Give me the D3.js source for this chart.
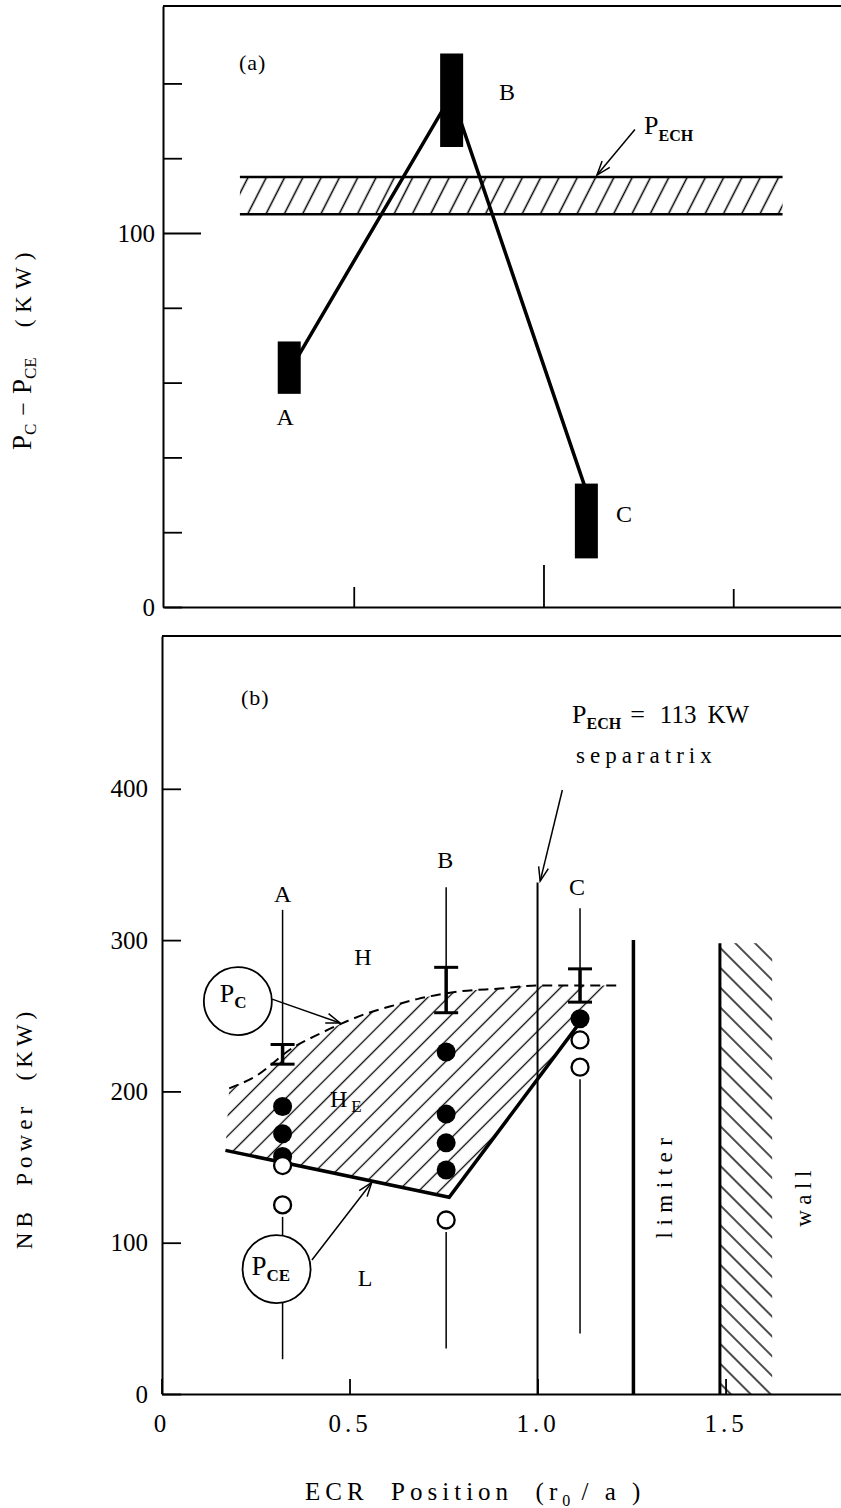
<!DOCTYPE html>
<html>
<head>
<meta charset="utf-8">
<script src="https://cdn.jsdelivr.net/npm/d3@7"></script>
<style>
body { margin: 0; background: #fff; }
svg { display: block; }
text { font-family: "Liberation Serif", "DejaVu Serif", serif; fill: #000; }
</style>
</head>
<body>
<div id="chart"></div>
<script>
// ---- panel (a): Pc - Pce at the three ECR positions ----
var posA = [0.33, 0.758, 1.113];
var caseNames = ["A", "B", "C"];
var diffLow = [57, 123, 13];
var diffHigh = [71, 148, 33];
var diffLine = [63, 137, 31];
var pechBand = [105, 115];
var pechSpan = [0.2, 1.63];
var yTicksA = [0, 20, 40, 60, 80, 100, 120, 140];
var xTicksA = [0.5, 1.0, 1.5];

// ---- panel (b): NB power thresholds ----
var posB = [0.322, 0.757, 1.113];
var pcLow = [218, 252, 259];
var pcHigh = [231, 282, 281];
var hPoints = [[190, 172, 157], [226, 185, 166, 148], [248]];
var lPoints = [[151, 125], [115], [234, 216]];
var chordTop = [320, 335, 321];
var chordBottom = [23, 30, 40];
var pcCurve = [[0.18, 202], [0.25, 210], [0.35, 229], [0.42, 238], [0.48, 245], [0.54, 251],
               [0.62, 257], [0.68, 261], [0.79, 266], [0.9, 268], [1.0, 270], [1.215, 270]];
var pceLine = [[0.17, 161], [0.765, 130], [1.105, 243]];
var separatrix = [1.0, 338];
var limiter = [1.255, 300];
var wall = [1.485, 1.624, 298];
var yTicksB = [0, 100, 200, 300, 400];
var xTicksB = [0, 0.5, 1.0, 1.5];

var W = 841, H = 1508;
var svg = d3.select("#chart").append("svg").attr("width", W).attr("height", H);
var defs = svg.append("defs");

function hatch(id, angle, gap, sw) {
    defs.append("pattern").attr("id", id)
        .attr("patternUnits", "userSpaceOnUse")
        .attr("width", gap).attr("height", gap)
        .attr("patternTransform", "rotate(" + angle + ")")
        .append("line")
        .attr("x1", gap / 2).attr("x2", gap / 2).attr("y1", 0).attr("y2", gap)
        .attr("stroke", "#000").attr("stroke-width", sw);
}
hatch("hatchA", 27, 16.3, 1.5);
hatch("hatchB", 45, 14.5, 1.3);
hatch("hatchW", -45, 14, 1.4);

defs.append("marker").attr("id", "arrow")
    .attr("markerUnits", "userSpaceOnUse")
    .attr("viewBox", "-16 -8 18 16")
    .attr("markerWidth", 18).attr("markerHeight", 16)
    .attr("refX", 0).attr("refY", 0).attr("orient", "auto")
    .append("path").attr("d", "M-14,-5L0,0L-14,5")
    .attr("fill", "none").attr("stroke", "#000").attr("stroke-width", 1.5);

function richText(g, x, y, parts) {
    var t = g.append("text").attr("x", x).attr("y", y);
    parts.forEach(function(p) {
        t.append("tspan").text(p.t)
            .attr("font-size", p.s || 22)
            .attr("dx", p.dx || 0).attr("dy", p.dy || 0)
            .attr("font-weight", p.w || null)
            .attr("letter-spacing", p.ls || 0);
    });
    return t;
}

function arrow(g, x1, y1, x2, y2) {
    g.append("line").attr("x1", x1).attr("y1", y1).attr("x2", x2).attr("y2", y2)
        .attr("stroke", "#000").attr("stroke-width", 1.5)
        .attr("marker-end", "url(#arrow)");
}

function styleAxis(g, sw) {
    g.select(".domain").attr("stroke-width", sw);
    g.selectAll(".tick line").attr("stroke-width", 1.8);
    g.selectAll("text").attr("font-family", "Liberation Serif, serif").attr("font-size", 25).attr("fill", "#000");
}

// ================= panel (a) =================
var xa = d3.scaleLinear().domain([0, 1.784]).range([164, 841]);
var ya = d3.scaleLinear().domain([0, 160.7]).range([607, 6]);
var ga = svg.append("g");

ga.append("line").attr("x1", 163).attr("x2", W).attr("y1", ya(160.7)).attr("y2", ya(160.7))
    .attr("stroke", "#000").attr("stroke-width", 2);

var axA = ga.append("g").attr("transform", "translate(163,0)")
    .call(d3.axisLeft(ya).tickValues(yTicksA).tickSize(-19).tickSizeOuter(0).tickPadding(8)
        .tickFormat(function(d) { return (d === 0 || d === 100) ? d : ""; }));
axA.selectAll(".tick line").attr("x2", function(d) { return d === 100 ? 38 : 19; });
styleAxis(axA, 2);

var axAx = ga.append("g").attr("transform", "translate(0," + ya(0) + ")")
    .call(d3.axisBottom(xa).tickValues(xTicksA).tickSize(-20).tickSizeOuter(0).tickFormat(""));
axAx.selectAll(".tick line").attr("y2", function(d) { return d === 1.0 ? -42 : (d === 1.5 ? -18 : -20); });
styleAxis(axAx, 2);

// P_ECH band
ga.append("rect")
    .attr("x", xa(pechSpan[0])).attr("width", xa(pechSpan[1]) - xa(pechSpan[0]))
    .attr("y", ya(pechBand[1])).attr("height", ya(pechBand[0]) - ya(pechBand[1]))
    .attr("fill", "url(#hatchA)");
ga.selectAll(".band-edge").data(pechBand).enter().append("line")
    .attr("x1", xa(pechSpan[0])).attr("x2", xa(pechSpan[1]))
    .attr("y1", function(d) { return ya(d); }).attr("y2", function(d) { return ya(d); })
    .attr("stroke", "#000").attr("stroke-width", 2.5);

// connecting line
ga.append("path")
    .attr("d", d3.line().x(function(d, i) { return xa(posA[i]); }).y(function(d) { return ya(d); })(diffLine))
    .attr("fill", "none").attr("stroke", "#000").attr("stroke-width", 3.5);

// bars
ga.selectAll(".bar").data(posA).enter().append("rect")
    .attr("x", function(d) { return xa(d) - 11.5; }).attr("width", 23)
    .attr("y", function(d, i) { return ya(diffHigh[i]); })
    .attr("height", function(d, i) { return ya(diffLow[i]) - ya(diffHigh[i]); })
    .attr("fill", "#000");

ga.append("text").attr("x", 239).attr("y", 70).attr("font-size", 22).attr("letter-spacing", 1).text("(a)");
ga.append("text").attr("x", xa(0.319)).attr("y", ya(48.7)).attr("font-size", 24).attr("text-anchor", "middle").text(caseNames[0]);
ga.append("text").attr("x", xa(0.904)).attr("y", ya(135.6)).attr("font-size", 24).attr("text-anchor", "middle").text(caseNames[1]);
ga.append("text").attr("x", xa(1.212)).attr("y", ya(22.8)).attr("font-size", 24).attr("text-anchor", "middle").text(caseNames[2]);

richText(ga, 644, 134, [{t: "P", s: 26}, {t: "ECH", s: 16, dy: 7, w: "bold"}]);
arrow(ga, xa(1.241), ya(127.7), xa(1.141), ya(115.5));

// y label (a)
richText(ga.append("g").attr("transform", "translate(31,450) rotate(-90)"), 0, 0, [
    {t: "P", s: 27}, {t: "C", s: 17, dy: 5},
    {t: "\u2212", s: 24, dx: 8, dy: -5},
    {t: "P", s: 27, dx: 8}, {t: "CE", s: 17, dy: 5},
    {t: "(KW)", s: 23, dx: 30, dy: -5, ls: 7}
]);

// ================= panel (b) =================
var xb = d3.scaleLinear().domain([0, 1.807]).range([161.5, 841]);
var yb = d3.scaleLinear().domain([0, 501]).range([1394, 636]);
var gb = svg.append("g");

gb.append("line").attr("x1", 162).attr("x2", W).attr("y1", yb(501)).attr("y2", yb(501))
    .attr("stroke", "#000").attr("stroke-width", 2);

var axB = gb.append("g").attr("transform", "translate(162,0)")
    .call(d3.axisLeft(yb).tickValues(yTicksB).tickSize(-19).tickSizeOuter(0).tickPadding(14));
styleAxis(axB, 2);

var axBx = gb.append("g").attr("transform", "translate(0," + yb(0) + ")")
    .call(d3.axisBottom(xb).tickValues(xTicksB).tickSize(-15).tickSizeOuter(0).tickPadding(20)
        .tickFormat(function(d) { return d === 0 ? "0" : d3.format(".1f")(d); }));
axBx.selectAll("text").attr("letter-spacing", 4);
styleAxis(axBx, 2);

// hatched H_E region between Pc and Pce
var curveGen = d3.line().x(function(d) { return xb(d[0]); }).y(function(d) { return yb(d[1]); })
    .curve(d3.curveMonotoneX);
var areaPath = curveGen(pcCurve) + pceLine.slice().reverse().map(function(d) {
    return "L" + xb(d[0]) + "," + yb(d[1]);
}).join("") + "Z";
gb.append("path").attr("d", areaPath).attr("fill", "url(#hatchB)");

gb.append("path").attr("d", curveGen(pcCurve))
    .attr("fill", "none").attr("stroke", "#000").attr("stroke-width", 2).attr("stroke-dasharray", "10,6");
gb.append("path")
    .attr("d", d3.line().x(function(d) { return xb(d[0]); }).y(function(d) { return yb(d[1]); })(pceLine))
    .attr("fill", "none").attr("stroke", "#000").attr("stroke-width", 3.5);

// chord lines at A, B, C
posB.forEach(function(p, i) {
    gb.append("line").attr("x1", xb(p)).attr("x2", xb(p))
        .attr("y1", yb(chordTop[i])).attr("y2", yb(pcHigh[i]))
        .attr("stroke", "#000").attr("stroke-width", 1.5);
    var lowest = d3.min(lPoints[i]);
    gb.append("line").attr("x1", xb(p)).attr("x2", xb(p))
        .attr("y1", yb(lowest) + 12).attr("y2", yb(chordBottom[i]))
        .attr("stroke", "#000").attr("stroke-width", 1.5);
});

// separatrix, limiter, wall
gb.append("line").attr("x1", xb(separatrix[0])).attr("x2", xb(separatrix[0]))
    .attr("y1", yb(separatrix[1])).attr("y2", yb(0))
    .attr("stroke", "#000").attr("stroke-width", 2);
gb.append("line").attr("x1", xb(limiter[0])).attr("x2", xb(limiter[0]))
    .attr("y1", yb(limiter[1])).attr("y2", yb(0))
    .attr("stroke", "#000").attr("stroke-width", 3.5);
gb.append("rect").attr("x", xb(wall[0])).attr("width", xb(wall[1]) - xb(wall[0]))
    .attr("y", yb(wall[2])).attr("height", yb(0) - yb(wall[2]))
    .attr("fill", "url(#hatchW)");
gb.append("line").attr("x1", xb(wall[0])).attr("x2", xb(wall[0]))
    .attr("y1", yb(wall[2])).attr("y2", yb(0))
    .attr("stroke", "#000").attr("stroke-width", 3);

// Pc error bars
posB.forEach(function(p, i) {
    var x = xb(p);
    gb.append("line").attr("x1", x).attr("x2", x).attr("y1", yb(pcHigh[i])).attr("y2", yb(pcLow[i]))
        .attr("stroke", "#000").attr("stroke-width", 3.5);
    [pcHigh[i], pcLow[i]].forEach(function(v) {
        gb.append("line").attr("x1", x - 12).attr("x2", x + 12).attr("y1", yb(v)).attr("y2", yb(v))
            .attr("stroke", "#000").attr("stroke-width", 3);
    });
});

// H mode (filled) and L mode (open) shots
posB.forEach(function(p, i) {
    gb.selectAll(".h" + i).data(hPoints[i]).enter().append("circle")
        .attr("cx", xb(p)).attr("cy", function(d) { return yb(d); }).attr("r", 9.5)
        .attr("fill", "#000");
    gb.selectAll(".l" + i).data(lPoints[i]).enter().append("circle")
        .attr("cx", xb(p)).attr("cy", function(d) { return yb(d); }).attr("r", 8.5)
        .attr("fill", "#fff").attr("stroke", "#000").attr("stroke-width", 2.3);
});

// Pc / Pce callouts
gb.append("circle").attr("cx", xb(0.203)).attr("cy", yb(259.7)).attr("r", 34)
    .attr("fill", "#fff").attr("stroke", "#000").attr("stroke-width", 1.8);
richText(gb, xb(0.203) - 18, yb(259.7) + 1, [{t: "P", s: 26}, {t: "C", s: 17, dy: 6, w: "bold"}]);
arrow(gb, xb(0.294), yb(261), xb(0.475), yb(245.2));

gb.append("circle").attr("cx", xb(0.306)).attr("cy", yb(82.6)).attr("r", 34)
    .attr("fill", "#fff").attr("stroke", "#000").attr("stroke-width", 1.8);
richText(gb, xb(0.306) - 25, yb(82.6) + 6, [{t: "P", s: 27}, {t: "CE", s: 17, dy: 6, w: "bold"}]);
arrow(gb, xb(0.4), yb(88.6), xb(0.559), yb(139.8));

arrow(gb, xb(1.066), yb(399.2), xb(1.007), yb(339));

gb.append("text").attr("x", 241).attr("y", 705).attr("font-size", 22).attr("letter-spacing", 1).text("(b)");
gb.append("text").attr("x", xb(posB[0])).attr("y", 902).attr("font-size", 24).attr("text-anchor", "middle").text(caseNames[0]);
gb.append("text").attr("x", xb(posB[1]) - 1).attr("y", 868).attr("font-size", 24).attr("text-anchor", "middle").text(caseNames[1]);
gb.append("text").attr("x", xb(posB[2]) - 3).attr("y", 895).attr("font-size", 24).attr("text-anchor", "middle").text(caseNames[2]);
gb.append("text").attr("x", 363).attr("y", 965).attr("font-size", 24).attr("text-anchor", "middle").text("H");
richText(gb, 330, 1107, [{t: "H", s: 24}, {t: "E", s: 17, dx: 4, dy: 5}]);
gb.append("text").attr("x", 365).attr("y", 1286).attr("font-size", 24).attr("text-anchor", "middle").text("L");

richText(gb, 572, 723, [
    {t: "P", s: 26}, {t: "ECH", s: 16, dy: 6, w: "bold"},
    {t: "=", s: 26, dx: 9, dy: -6}, {t: "113", s: 25, dx: 15}, {t: "KW", s: 25, dx: 11}
]);
gb.append("text").attr("x", 576).attr("y", 763).attr("font-size", 23).attr("letter-spacing", 5).text("separatrix");

gb.append("text").attr("transform", "translate(672,1185) rotate(-90)")
    .attr("text-anchor", "middle").attr("font-size", 23).attr("letter-spacing", 6.5).text("limiter");
gb.append("text").attr("transform", "translate(811,1196) rotate(-90)")
    .attr("text-anchor", "middle").attr("font-size", 23).attr("letter-spacing", 5.5).text("wall");

// y label (b)
gb.append("text").attr("transform", "translate(32,1128) rotate(-90)")
    .attr("text-anchor", "middle").attr("font-size", 23).attr("letter-spacing", 5)
    .style("white-space", "pre").text("NB  Power  (KW)");

// x label
richText(svg, 305, 1500, [
    {t: "ECR  Position  (r", s: 25, ls: 5},
    {t: "0", s: 16, dy: 6},
    {t: " / a )", s: 25, dy: -6, ls: 5}
]).style("white-space", "pre");
</script>
</body>
</html>
